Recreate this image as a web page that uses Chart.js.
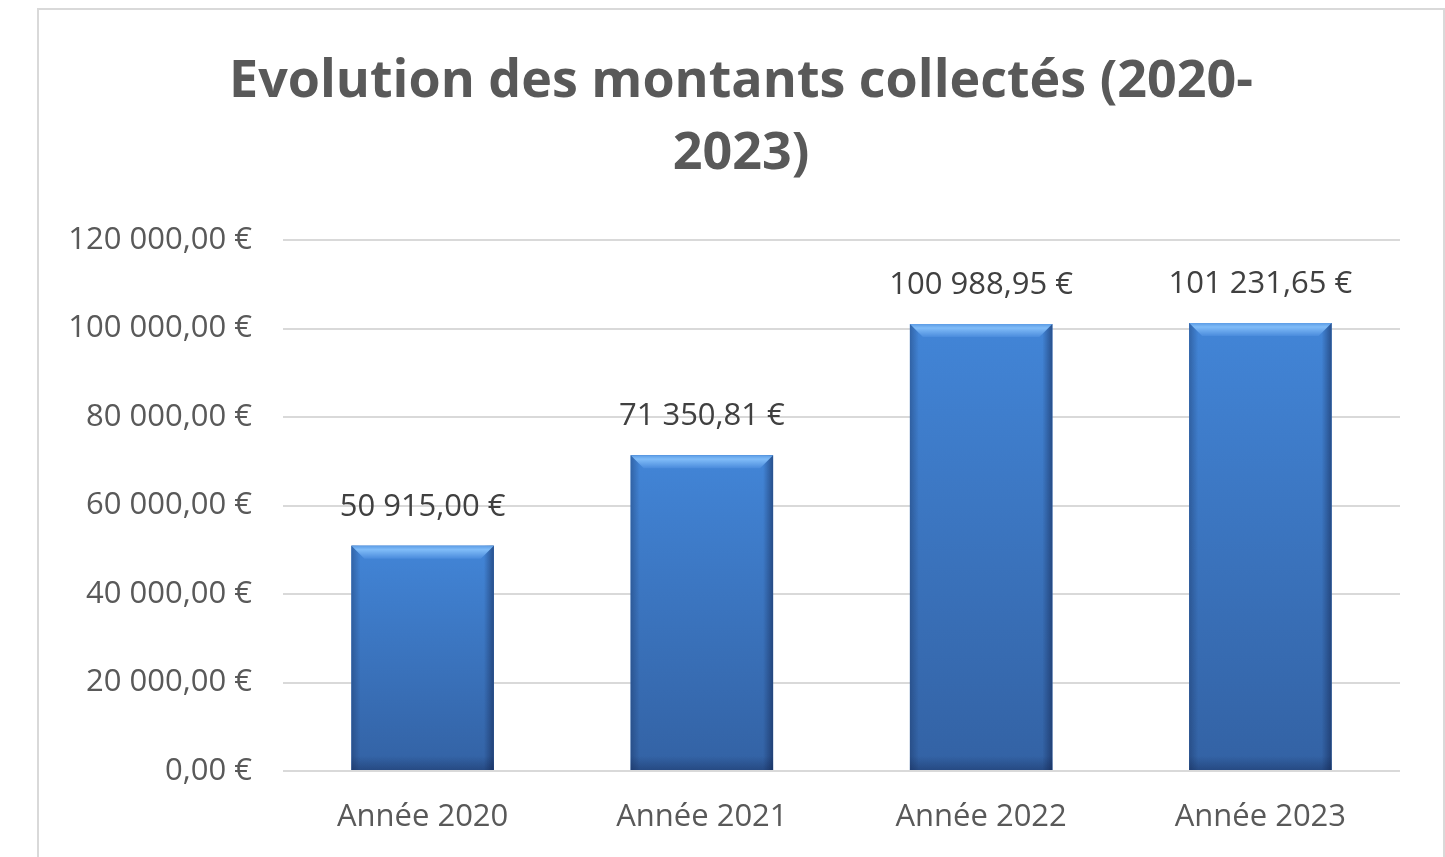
<!DOCTYPE html>
<html>
<head>
<meta charset="utf-8">
<script src="https://cdn.jsdelivr.net/npm/chart.js@4/dist/chart.umd.min.js"></script>
<style>
  body { margin: 0; background: #fff; }
  #box { position: absolute; left: 37px; top: 8px; width: 1404px; height: 849px;
         border: 2px solid #d9d9d9; border-bottom: none; background: #fff; }
</style>
</head>
<body>
<div id="box"><canvas id="chart" width="1404" height="847"></canvas></div>
<script>
// Data
const years = ['Année 2020', 'Année 2021', 'Année 2022', 'Année 2023'];
const amounts = [50915.00, 71350.81, 100988.95, 101231.65];
const titleLines = ['Evolution des montants collectés (2020-', '2023)'];

// "120 000,00 €" style
function euro(v) {
    const parts = Number(v).toFixed(2).split('.');
    const ent = parts[0].replace(/\B(?=(\d{3})+(?!\d))/g, ' ');
    return ent + ',' + parts[1] + ' €';
}

// title centred on the whole frame (built-in title would centre on the padded box)
const frameTitle = {
    id: 'frameTitle',
    afterDraw(chart) {
        const ctx = chart.ctx;
        ctx.save();
        ctx.font = 'bold 52px "Open Sans"';
        ctx.fillStyle = '#595959';
        ctx.textAlign = 'center';
        ctx.textBaseline = 'alphabetic';
        titleLines.forEach((line, i) => ctx.fillText(line, chart.width / 2, 87 + i * 72));
        ctx.restore();
    }
};

// Bevel look + value labels on top of bars
const barStyle = {
    id: 'barStyle',
    afterDatasetsDraw(chart) {
        const ctx = chart.ctx;
        const meta = chart.getDatasetMeta(0);
        meta.data.forEach((bar, i) => {
            const l = bar.x - bar.width / 2, r = bar.x + bar.width / 2;
            const t = bar.y, b = bar.base, w = bar.width;
            ctx.save();
            let g = ctx.createLinearGradient(0, t, 0, b);
            g.addColorStop(0, '#4285d7');
            g.addColorStop(1, '#3362a4');
            ctx.fillStyle = g;
            ctx.fillRect(l, t, w, b - t);
            // side shading
            g = ctx.createLinearGradient(l, 0, l + 9, 0);
            g.addColorStop(0, 'rgba(20,40,80,0.35)');
            g.addColorStop(1, 'rgba(20,40,80,0)');
            ctx.fillStyle = g;
            ctx.fillRect(l, t, 9, b - t);
            g = ctx.createLinearGradient(r - 10, 0, r, 0);
            g.addColorStop(0, 'rgba(15,30,70,0)');
            g.addColorStop(1, 'rgba(15,30,70,0.5)');
            ctx.fillStyle = g;
            ctx.fillRect(r - 10, t, 10, b - t);
            // bottom shading
            g = ctx.createLinearGradient(0, b - 14, 0, b);
            g.addColorStop(0, 'rgba(15,30,70,0)');
            g.addColorStop(1, 'rgba(15,30,70,0.35)');
            ctx.fillStyle = g;
            ctx.fillRect(l, b - 14, w, 14);
            // top bevel
            const d = 13;
            g = ctx.createLinearGradient(0, t, 0, t + d);
            g.addColorStop(0, '#5d9de6');
            g.addColorStop(0.3, '#80bcf8');
            g.addColorStop(1, '#4a8bdc');
            ctx.fillStyle = g;
            ctx.beginPath();
            ctx.moveTo(l, t);
            ctx.lineTo(r, t);
            ctx.lineTo(r - d, t + d);
            ctx.lineTo(l + d, t + d);
            ctx.closePath();
            ctx.fill();
            ctx.restore();

            ctx.save();
            ctx.font = '31px "Open Sans"';
            ctx.fillStyle = '#404040';
            ctx.textAlign = 'center';
            ctx.textBaseline = 'middle';
            ctx.fillText(euro(amounts[i]), bar.x, t - 39);
            ctx.restore();
        });
    }
};

new Chart(document.getElementById('chart'), {
    type: 'bar',
    data: {
        labels: years,
        datasets: [{
            data: amounts,
            backgroundColor: '#3c77c4',
            categoryPercentage: 1,
            barPercentage: 0.51
        }]
    },
    options: {
        responsive: false,
        animation: false,
        layout: { padding: { left: 0, right: 43, top: 230, bottom: 0 } },
        plugins: {
            legend: { display: false },
            tooltip: { enabled: false },
            title: { display: false }
        },
        scales: {
            x: {
                grid: { display: false, drawTicks: false },
                border: { display: false },
                ticks: { color: '#595959', font: { family: '"Open Sans"', size: 31 }, padding: 28 },
                afterFit(scale) { scale.height = 86; }
            },
            y: {
                min: 0,
                max: 120000,
                grid: { color: '#d9d9d9', lineWidth: 2, drawTicks: false },
                border: { display: false },
                ticks: {
                    stepSize: 20000,
                    color: '#595959',
                    font: { family: '"Open Sans"', size: 31 },
                    padding: 31,
                    callback: v => euro(v)
                },
                afterFit(scale) { scale.width = 244; }
            }
        }
    },
    plugins: [barStyle, frameTitle]
});
</script>
</body>
</html>
